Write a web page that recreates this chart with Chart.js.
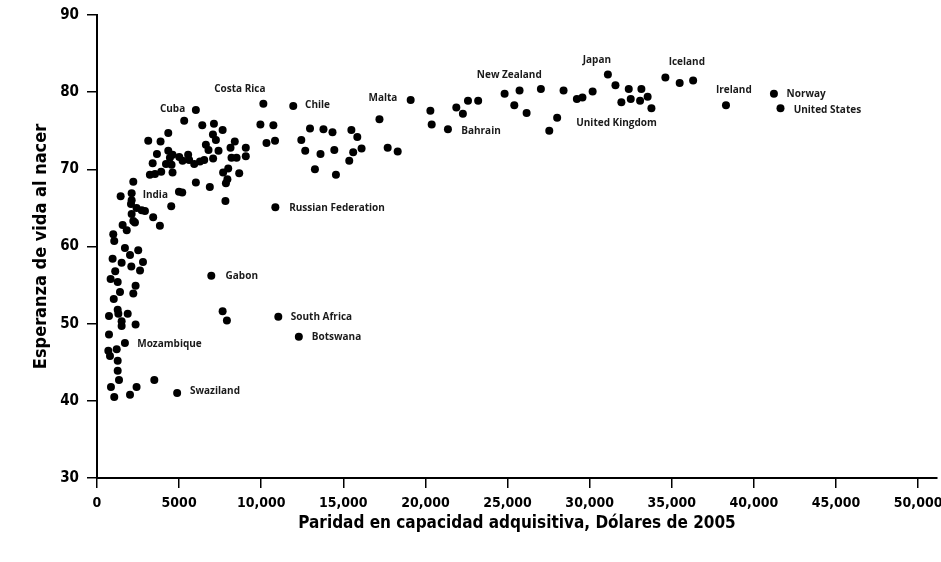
<!DOCTYPE html>
<html>
<head>
<meta charset="utf-8">
<script src="https://cdn.jsdelivr.net/npm/chart.js@4/dist/chart.umd.min.js"></script>
<style>
  html, body { margin: 0; padding: 0; background: #fff; }
  #wrap { width: 941px; height: 562px; }
</style>
</head>
<body>
<div id="wrap"><canvas id="chart"></canvas></div>
<script>
// PIB per cápita (PPA, dólares de 2005) y esperanza de vida, un valor por país
const gdpPPP = [
  2210, 1440, 2110, 2110, 2070, 2410, 2720, 2920, 2110, 2210,
  2310, 1560, 1810, 990, 1050, 1700, 2510, 2010, 950, 1500,
  2800, 2090, 2620, 1110, 830, 1260, 2350, 2210, 1400, 1020,
  1260, 1300, 1870, 730, 1500, 1500, 2350, 730, 1700, 1200,
  690, 790, 1260, 1260, 1340, 3490, 2410, 2010, 850, 1050,
  3420, 3830, 4520, 4990, 5190, 6020, 6870, 7850, 7940, 7820,
  10860, 6960, 7650, 7910, 11040, 12290, 4880,
  5310, 6020, 6410, 7120, 7650, 4340, 3120, 3870, 7060, 7240,
  6630, 6790, 7400, 8390, 8130, 9060, 3650, 4340, 4600, 4440,
  5010, 5550, 5610, 5920, 6270, 6530, 7070, 8190, 8500, 9060,
  3390, 4200, 4540, 5210, 3220, 3530, 3910, 4600, 7990, 7680, 8660,
  10130, 9950, 10740, 10320, 10840,
  11950, 12970, 13790, 14340, 12440, 12680, 13610, 14450, 15490, 15850,
  16110, 15600, 15360, 13270, 14550, 17200, 17700, 18310,
  19100, 20300, 20380, 21370, 21880, 22280, 22590, 23210,
  24820, 25730, 25410, 26160, 27030, 28410, 28020, 27540,
  29220, 29560, 30180, 31110, 31570, 32380, 33150, 33530, 31930, 32500,
  33070, 33760, 34610, 35480, 36300, 38300, 41220, 41620
];
const lifeExpectancy = [
  68.4, 66.5, 66.9, 66.0, 65.5, 65.0, 64.7, 64.6, 64.2, 63.3,
  63.1, 62.8, 62.1, 61.6, 60.7, 59.8, 59.5, 58.9, 58.4, 57.9,
  58.0, 57.4, 56.9, 56.8, 55.8, 55.4, 54.9, 53.9, 54.1, 53.2,
  51.8, 51.3, 51.3, 51.0, 50.3, 49.7, 49.9, 48.6, 47.5, 46.7,
  46.5, 45.8, 45.2, 43.9, 42.7, 42.7, 41.8, 40.8, 41.8, 40.5,
  63.8, 62.7, 65.2, 67.1, 67.0, 68.3, 67.7, 68.2, 68.7, 65.9,
  65.1, 56.2, 51.6, 50.4, 50.9, 48.3, 41.0,
  76.3, 77.7, 75.7, 75.9, 75.1, 74.7, 73.7, 73.6, 74.5, 73.8,
  73.2, 72.5, 72.4, 73.6, 72.8, 72.8, 72.0, 72.4, 71.9, 71.5,
  71.6, 71.9, 71.2, 70.7, 71.0, 71.2, 71.4, 71.5, 71.5, 71.7,
  70.8, 70.7, 70.6, 71.1, 69.3, 69.4, 69.7, 69.6, 70.1, 69.6, 69.5,
  78.5, 75.8, 75.7, 73.4, 73.7,
  78.2, 75.3, 75.2, 74.8, 73.8, 72.4, 72.0, 72.5, 75.1, 74.2,
  72.7, 72.2, 71.1, 70.0, 69.3, 76.5, 72.8, 72.3,
  79.0, 77.6, 75.8, 75.2, 78.0, 77.2, 78.9, 78.9,
  79.8, 80.2, 78.3, 77.3, 80.4, 80.2, 76.7, 75.0,
  79.1, 79.3, 80.1, 82.3, 80.9, 80.4, 80.4, 79.4, 78.7, 79.1,
  78.9, 77.9, 81.9, 81.2, 81.5, 78.3, 79.8, 77.9
];

// nombres de países escritos en el gráfico, anclados en unidades de datos (inicio del texto)
const labelNames = ['Cuba', 'Costa Rica', 'Chile', 'Malta', 'New Zealand', 'Japan', 'Iceland',
  'Ireland', 'Norway', 'United States', 'Bahrain', 'United Kingdom', 'India',
  'Russian Federation', 'Gabon', 'South Africa', 'Botswana', 'Mozambique', 'Swaziland'];
const labelGdp = [3830, 7135, 12670, 16530, 23130, 29580, 34810,
  37690, 41990, 42420, 22180, 29180, 2780,
  11700, 7830, 11800, 13080, 2450, 5660];
const labelLife = [77.8, 80.4, 78.3, 79.2, 82.2, 84.2, 83.9,
  80.3, 79.8, 77.7, 75.0, 76.0, 66.7,
  65.0, 56.2, 50.9, 48.3, 47.4, 41.3];

const xTicks = [0, 5000, 10000, 15000, 20000, 25000, 30000, 35000, 40000, 45000, 50000];

const narrow = "'Liberation Sans Narrow', 'DejaVu Sans Condensed', sans-serif";

const countryLabels = {
  id: 'countryLabels',
  afterDatasetsDraw(chart) {
    const { ctx, scales: { x, y } } = chart;
    ctx.save();
    ctx.font = "bold 10px 'Open Sans', 'Noto Sans', sans-serif";
    ctx.fillStyle = '#1a1a1a';
    ctx.textAlign = 'left';
    ctx.textBaseline = 'middle';
    labelNames.forEach((name, i) => {
      ctx.fillText(name, x.getPixelForValue(labelGdp[i]), y.getPixelForValue(labelLife[i]));
    });
    ctx.restore();
  }
};

const points = gdpPPP.map((g, i) => ({ x: g, y: lifeExpectancy[i] }));

new Chart(document.getElementById('chart'), {
  type: 'scatter',
  data: {
    datasets: [{
      data: points,
      backgroundColor: '#000',
      borderColor: '#000',
      pointRadius: 4,
      pointBorderWidth: 0
    }]
  },
  options: {
    responsive: true,
    maintainAspectRatio: false,
    animation: false,
    layout: { padding: { left: 31, top: 15, right: 3, bottom: 0 } },
    plugins: { legend: { display: false }, tooltip: { enabled: false } },
    scales: {
      x: {
        type: 'linear',
        min: 0,
        max: 51150,
        afterBuildTicks: scale => { scale.ticks = xTicks.map(v => ({ value: v })); },
        afterFit: scale => { scale.height = 84; scale.paddingLeft = 0; scale.paddingRight = 0; },
        ticks: {
          color: '#000',
          padding: 7,
          maxRotation: 0,
          font: { family: narrow, size: 14, weight: 'bold' },
          callback: v => v >= 10000 ? v.toLocaleString('en-US') : String(v)
        },
        grid: { drawOnChartArea: false, drawTicks: true, tickLength: 10, tickColor: '#000', lineWidth: 1.5 },
        border: { display: true, color: '#000', width: 2 },
        title: {
          display: true,
          text: 'Paridad en capacidad adquisitiva, Dólares de 2005',
          color: '#000',
          padding: { top: 0, bottom: 28 },
          font: { family: narrow, size: 17, weight: 'bold' }
        }
      },
      y: {
        min: 30,
        max: 90,
        afterFit: scale => { scale.width = 66; scale.paddingTop = 0; scale.paddingBottom = 0; },
        ticks: {
          stepSize: 10,
          color: '#000',
          padding: 8,
          font: { family: narrow, size: 15, weight: 'bold' }
        },
        grid: { drawOnChartArea: false, drawTicks: true, tickLength: 10, tickColor: '#000', lineWidth: 1.5 },
        border: { display: true, color: '#000', width: 2 },
        title: {
          display: true,
          text: 'Esperanza de vida al nacer',
          color: '#000',
          padding: { top: 0, bottom: 0 },
          font: { family: narrow, size: 18, weight: 'bold' }
        }
      }
    }
  },
  plugins: [countryLabels]
});
</script>
</body>
</html>
